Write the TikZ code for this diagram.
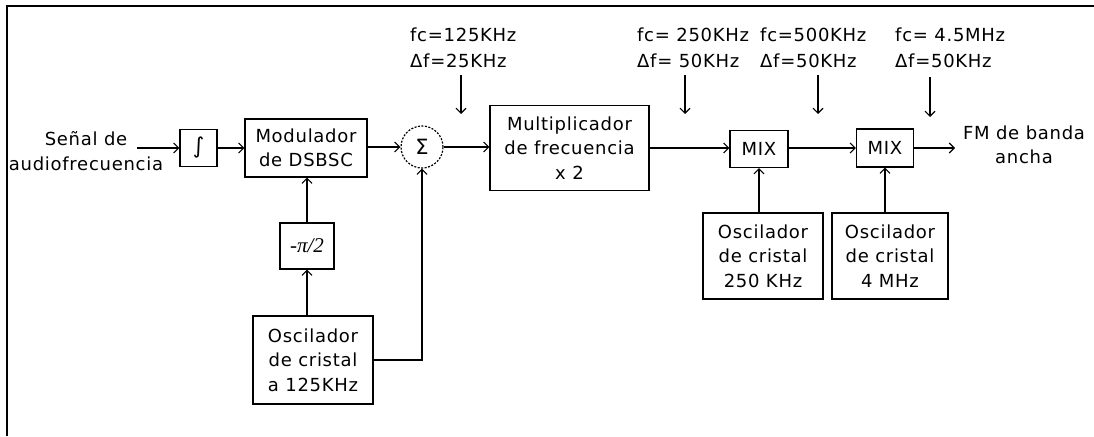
\documentclass[tikz,border=0pt]{standalone}
\usepackage{fontspec}
\setmainfont{DejaVu Sans}[LetterSpace=4]
\newfontfamily\pifont{Liberation Serif}
\newfontfamily\symfont{DejaVu Sans}
\usetikzlibrary{arrows.meta}
\begin{document}
\begin{tikzpicture}[x=1pt,y=-1pt,
  txt/.style={font=\fontsize{18}{24.5}\selectfont, align=center, inner sep=0pt},
  blk/.style={draw, line width=1.3pt, txt, minimum width=#1},
  conn/.style={line width=1.3pt, -{Straight Barb[length=5pt,width=10pt,line width=1.1pt]}},
  lbl/.style={font=\fontsize{18}{26}\selectfont, align=left, inner sep=0pt, anchor=north west}
]
\useasboundingbox (0,0) rectangle (1094,436);
% frame
\draw[line width=1.6pt] (1094,6) -- (7,6) -- (7,436);

% blocks
\node[blk=37pt, minimum height=37pt] (int) at (198.5,148) {\symfont\fontsize{22}{22}\selectfont ∫};
\node[blk=122pt, minimum height=58pt] (mod) at (306,148) {Modulador\\de DSBSC};
\node[draw, circle, dash pattern=on 2pt off 1.5pt, line width=1.2pt, minimum size=42pt, inner sep=0pt, txt] (sum) at (422,147) {\symfont\fontsize{21}{21}\selectfont Σ};
\node[blk=159pt, minimum height=85pt] (mult) at (569.5,148) {Multiplicador\\de frecuencia\\x 2};
\node[blk=58pt, minimum height=37pt] (mix1) at (759,149) {MIX};
\node[blk=57pt, minimum height=38pt] (mix2) at (885,148) {MIX};
\node[blk=54pt, minimum height=46pt] (phase) at (307,246) {\pifont\itshape\fontsize{21}{21}\selectfont -π/2};
\node[blk=120pt, minimum height=88pt] (osc1) at (313,360) {Oscilador\\de cristal\\a 125KHz};
\node[blk=120pt, minimum height=86pt] (osc2) at (763,256) {Oscilador\\de cristal\\250 KHz};
\node[blk=116pt, minimum height=86pt] (osc3) at (890,256) {Oscilador\\de cristal\\4 MHz};

% input / output texts
\node[txt] (inp) at (86,151) {Señal de\\audiofrecuencia};
\node[txt] (outp) at (1024,145) {FM de banda\\ancha};
\coordinate (inA) at (137,148);
\coordinate (outA) at (955,148);

% labels
\node[lbl] (l1) at (410,28) {fc=125KHz\\Δf=25KHz};
\node[lbl] (l2) at (637,28) {fc= 250KHz\\Δf= 50KHz};
\node[lbl] (l3) at (760,28) {fc=500KHz\\Δf=50KHz};
\node[lbl] (l4) at (895,28) {fc= 4.5MHz\\Δf=50KHz};
\coordinate (a1s) at (461,75);  \coordinate (a1e) at (461,114);
\coordinate (a2s) at (685,75);  \coordinate (a2e) at (685,114);
\coordinate (a3s) at (818,75);  \coordinate (a3e) at (818,114);
\coordinate (a4s) at (930,77);  \coordinate (a4e) at (930,117);
\draw[conn] (a1s) -- (a1e);
\draw[conn] (a2s) -- (a2e);
\draw[conn] (a3s) -- (a3e);
\draw[conn] (a4s) -- (a4e);

% main path
\draw[conn] (inA) -- (int.west |- inA);
\draw[conn] (int.east) -- (int.east -| mod.west);
\draw[conn] (mod.east |- sum.west) -- (sum.west);
\draw[conn] (sum.east) -- (sum.east -| mult.west);
\draw[conn] (mult.east) -- (mult.east -| mix1.west);
\draw[conn] (mix1.east |- mix2.west) -- (mix2.west);
\draw[conn] (mix2.east) -- (outA);

% vertical feeds
\draw[conn] (phase.north) -- (phase.north |- mod.south);
\draw[conn] (osc1.north -| phase.south) -- (phase.south);
\draw[conn] (osc1.east) -| (sum.south);
\draw[conn] (osc2.north -| mix1.south) -- (mix1.south);
\draw[conn] (osc3.north -| mix2.south) -- (mix2.south);
\end{tikzpicture}
\end{document}
